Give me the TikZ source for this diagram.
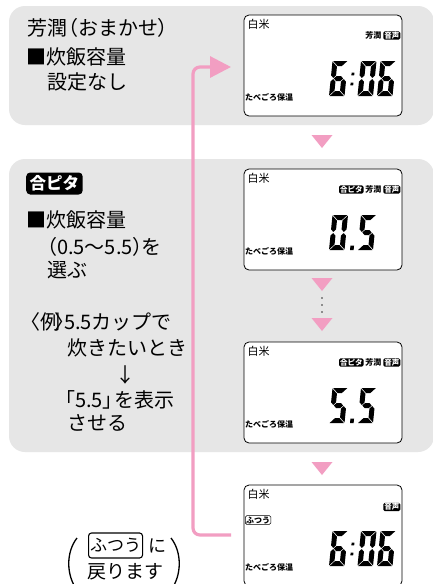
\documentclass[tikz,border=0pt]{standalone}
\usepackage{fontspec}
\setmainfont{Noto Sans CJK JP}
\usetikzlibrary{arrows.meta}
\definecolor{panelgray}{HTML}{E6E6E6}
\definecolor{pinkc}{HTML}{F29EC2}
\newcommand{\lsgA}{\fill (0.6,0) -- (14.9,0) -- (9.9,5) -- (5.6,5) -- cycle;}
\newcommand{\lsgD}{\fill (0.6,35) -- (14.9,35) -- (9.9,30) -- (5.6,30) -- cycle;}
\newcommand{\lsgG}{\fill (3.1,17.5) -- (5.6,15) -- (9.9,15) -- (12.4,17.5) -- (9.9,20) -- (5.6,20) -- cycle;}
\newcommand{\lsgF}{\fill (0,0.6) -- (5,5.6) -- (5,14.4) -- (2.5,16.9) -- (0,14.4) -- cycle;}
\newcommand{\lsgE}{\fill (0,34.4) -- (5,29.4) -- (5,20.6) -- (2.5,18.1) -- (0,20.6) -- cycle;}
\newcommand{\lsgB}{\fill (15.5,0.6) -- (10.5,5.6) -- (10.5,14.4) -- (13,16.9) -- (15.5,14.4) -- cycle;}
\newcommand{\lsgC}{\fill (15.5,34.4) -- (10.5,29.4) -- (10.5,20.6) -- (13,18.1) -- (15.5,20.6) -- cycle;}
\newcommand{\dsix}{\lsgA\lsgF\lsgG\lsgE\lsgD\lsgC}
\newcommand{\dzero}{\lsgA\lsgB\lsgC\lsgD\lsgE\lsgF}
\newcommand{\dfive}{\lsgA\lsgF\lsgG\lsgC\lsgD}
\newcommand{\lcddigit}[3]{\begin{scope}[shift={(#1,#2)},xslant=0.1]#3\end{scope}}
\newcommand{\lcdcolon}[1]{\begin{scope}[shift={(332.5,#1)},xslant=0.1]\fill (20.3,11.6) rectangle ++(2.8,2.8); \fill (20.3,21.6) rectangle ++(2.8,2.8);\end{scope}}
\newcommand{\lcdpoint}[1]{\begin{scope}[shift={(332.5,#1)},xslant=0.1]\fill (21,30.5) rectangle ++(3.6,4.5);\end{scope}}
\newcommand{\lcdframe}[2]{%
  \node[lcd] (#1) at (323,#2+50.5) {};
  \node[anchor=west,inner sep=0,font=\fontsize{11}{12}\selectfont] (#1rice) at (247.5,#2+9.5) {白米};
  \node[small,anchor=west] (#1keep) at (245,#2+82) {たべごろ保温};
}
\tikzset{
  panel/.style={fill=panelgray, rounded corners=16pt, draw=none, inner sep=0},
  lcd/.style={draw=black, line width=0.8pt, fill=white, rounded corners=5pt, minimum width=158pt, minimum height=101pt, inner sep=0},
  txt/.style={anchor=west, inner sep=0, font=\fontsize{20}{24}\selectfont},
  small/.style={inner sep=0, font=\fontsize{8}{9}\selectfont\bfseries},
  badge/.style={fill=black, text=white, rounded corners=1.5pt, inner xsep=1pt, inner ysep=0.6pt, font=\fontsize{7.5}{8}\selectfont\bfseries},
  pinkline/.style={draw=pinkc, line width=3.2pt},
  downtri/.style={fill=pinkc},
}
\begin{document}
\begin{tikzpicture}[x=1pt,y=-1pt]
\clip (0,0) rectangle (433,584);
\fill[white] (0,0) rectangle (433,584);
% panels
\node[panel, minimum width=425pt, minimum height=119pt] (p1) at (221.5,65.5) {};
\node[panel, minimum width=425pt, minimum height=293pt] (p2) at (221.5,305.5) {};
% panel 1 text
\node[txt] (t1a) at (27,28) {芳潤\kern-9pt（おまかせ\kern-1pt）};
\node[txt] (t1b) at (26,57) {■炊飯容量};
\node[txt] (t1c) at (47,82) {設定なし};
% panel 2 text
\node[fill=black, text=white, rounded corners=4pt, inner xsep=3.5pt, inner ysep=0pt, minimum height=22pt, minimum width=55pt, anchor=west, font=\fontsize{16.5}{17}\selectfont\bfseries] (gp) at (26,183.5) {合ピタ};
\node[txt] (t2a) at (26,220) {■炊飯容量};
\node[txt] (t2b) at (37,247) {（0.5〜5.5）\kern-11pt を};
\node[txt] (t2c) at (47,270) {選ぶ};
\node[txt] (t2d) at (24,322) {\kern-4pt〈例\kern-6pt〉\kern-10pt 5.5カップで};
\node[txt] (t2e) at (67,348) {炊きたいとき};
\node[txt] (t2f) at (115,375) {↓};
\node[txt] (t2g) at (55,400) {「5.5」\kern-8pt を表示};
\node[txt] (t2h) at (67,423) {させる};
% displays
\lcdframe{d1}{15}
\node[badge, anchor=east] (d1s) at (400.5,35.5) {音声};
\node[small, anchor=east] (d1h) at ([xshift=-1.5pt]d1s.west) {芳潤};
\lcddigit{332.5}{61}{\dsix}
\lcdcolon{61}
\lcddigit{361}{61}{\dzero}
\lcddigit{380.5}{61}{\dsix}

\lcdframe{d2}{169}
\node[badge, anchor=east] (d2s) at (400.5,189.5) {音声};
\node[small, anchor=east] (d2h) at ([xshift=-1.5pt]d2s.west) {芳潤};
\node[badge, anchor=east] (d2g) at ([xshift=-1.5pt]d2h.west) {合ピタ};
\lcddigit{332.5}{215}{\dzero}
\lcdpoint{215}
\lcddigit{361}{215}{\dfive}

\lcdframe{d3}{342}
\node[badge, anchor=east] (d3s) at (400.5,362.5) {音声};
\node[small, anchor=east] (d3h) at ([xshift=-1.5pt]d3s.west) {芳潤};
\node[badge, anchor=east] (d3g) at ([xshift=-1.5pt]d3h.west) {合ピタ};
\lcddigit{332.5}{388}{\dfive}
\lcdpoint{388}
\lcddigit{361}{388}{\dfive}

\lcdframe{d4}{485}
\node[badge, anchor=east] (d4s) at (400.5,507) {音声};
\node[draw, rounded corners=1.5pt, line width=0.6pt, inner xsep=0.8pt, inner ysep=0.8pt, anchor=west, font=\fontsize{8}{9}\selectfont\bfseries] (d4f) at (245,520) {ふつう};
\lcddigit{332.5}{531}{\dsix}
\lcdcolon{531}
\lcddigit{361}{531}{\dzero}
\lcddigit{380.5}{531}{\dsix}
% triangles and dots
\fill[downtri] (311.5,135) -- (332.5,135) -- (322,148) -- cycle;
\fill[downtri] (311.5,278) -- (332.5,278) -- (322,291) -- cycle;
\fill[downtri] (311.5,318) -- (332.5,318) -- (322,331) -- cycle;
\fill[downtri] (311.5,462) -- (332.5,462) -- (322,475) -- cycle;
\fill[black!80] (322,298) circle (0.9) (322,305) circle (0.9) (322,312) circle (0.9);
% pink return connector
\coordinate (ret) at (231,535);
\coordinate (tip) at (231,67);
\draw[pinkline, rounded corners=7pt, -{Triangle[length=21pt,width=21pt]}] (ret) -- (193,535) -- (193,67) -- (tip);
% bottom note
\draw[line width=1.3pt] (77,538) .. controls (66,552) and (66,575) .. (77,590);
\draw[line width=1.3pt] (171,538) .. controls (182,552) and (182,575) .. (171,590);
\node[draw, rounded corners=3pt, line width=1.1pt, inner xsep=1.5pt, inner ysep=0pt, minimum height=25pt, anchor=west, font=\fontsize{17}{18}\selectfont] (fu) at (88,545.5) {ふつう};
\node[anchor=west, inner sep=0, font=\fontsize{18}{18}\selectfont] (ni) at (148,546) {に};
\node[anchor=west, inner sep=0, font=\fontsize{19}{20}\selectfont] (back) at (87,572) {戻ります};
\end{tikzpicture}
\end{document}
